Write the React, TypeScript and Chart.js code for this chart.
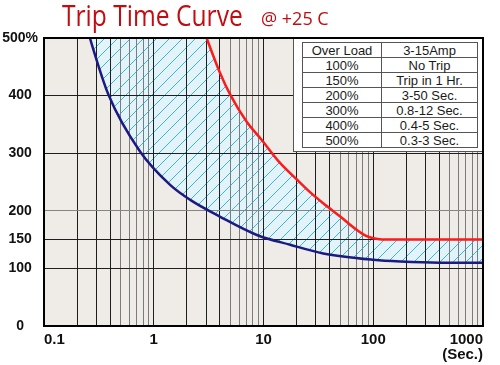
import React, { useEffect, useRef } from "react";
import { Chart, registerables } from "chart.js";

// ---- data ----
const blueTimes = [0.2, 0.262, 0.386, 0.75, 1.41, 2.15, 4, 8.7, 17.5, 35, 100, 176, 400, 1000];
const blueLoads = [580, 500, 402, 303, 245, 219, 190, 158, 141, 126, 115, 112, 110, 110];

const redTimes = [0.2, 2.43, 3.03, 4, 4.96, 7, 9.63, 14, 20.2, 27, 35, 50, 70.5, 85, 100, 120, 150, 1000];
const redLoads = [650, 550, 500, 440, 402, 355, 323, 284, 254, 231, 213, 190, 167, 157, 152.5, 150.3, 150, 150];

const yTickValues = [0, 100, 150, 200, 300, 400, 500];
const xMajorValues = [0.1, 1, 10, 100, 1000];
const xMinorDigits = [1, 2, 3, 4, 5, 6, 7, 8, 9];

const overLoadLabels = ["Over Load", "100%", "150%", "200%", "300%", "400%", "500%"];
const ratingLabels = ["3-15Amp", "No Trip", "Trip in 1 Hr.", "3-50 Sec.", "0.8-12 Sec.", "0.4-5 Sec.", "0.3-3 Sec."];

const titleText = "Trip Time Curve";
const subTitleText = "@ +25 C";

// ---- plugin: plot background + frame (registered first so it paints before the filler) ----
const plotFramePlugin = {
  id: "aaPlotFrame",
  beforeDraw(chart: any) {
    const { ctx, chartArea } = chart;
    if (!chartArea) return;
    ctx.save();
    ctx.fillStyle = "#efebe6";
    ctx.fillRect(chartArea.left, chartArea.top, chartArea.right - chartArea.left, chartArea.bottom - chartArea.top);
    ctx.restore();
  },
  afterDatasetsDraw(chart: any) {
    const { ctx, chartArea } = chart;
    if (!chartArea) return;
    ctx.save();
    ctx.strokeStyle = "#000";
    ctx.lineWidth = 2;
    ctx.strokeRect(chartArea.left, chartArea.top, chartArea.right - chartArea.left, chartArea.bottom - chartArea.top);
    ctx.restore();
  },
};
Chart.register(plotFramePlugin);
Chart.register(...registerables);

function makeHatch(): CanvasPattern | string {
  const s = 13;
  const pc = document.createElement("canvas");
  pc.width = s;
  pc.height = s;
  const p = pc.getContext("2d");
  if (!p) return "#e1f3f9";
  p.fillStyle = "#e2f4fa";
  p.fillRect(0, 0, s, s);
  p.strokeStyle = "#3db5d2";
  p.lineWidth = 1;
  for (const off of [-s, 0, s]) {
    p.beginPath();
    p.moveTo(-1 + off, s + 1);
    p.lineTo(s + 1 + off, -1);
    p.stroke();
  }
  const pat = p.createPattern(pc, "repeat");
  return pat || "#e1f3f9";
}

export default function App() {
  const ref = useRef<HTMLCanvasElement>(null);

  useEffect(() => {
    if (!ref.current) return;
    const xTicks: number[] = [];
    for (let e = -1; e < 3; e++) {
      for (const d of xMinorDigits) xTicks.push(Number((d * Math.pow(10, e)).toPrecision(3)));
    }
    xTicks.push(1000);

    const chart = new Chart(ref.current, {
      type: "line",
      data: {
        datasets: [
          {
            label: "Max",
            data: redTimes.map((t, i) => ({ x: t, y: redLoads[i] })),
            borderColor: "#ff1a1a",
            borderWidth: 2.5,
            pointRadius: 0,
            cubicInterpolationMode: "monotone",
            fill: "+1",
            backgroundColor: makeHatch(),
            clip: 0,
          },
          {
            label: "Min",
            data: blueTimes.map((t, i) => ({ x: t, y: blueLoads[i] })),
            borderColor: "#1c1a82",
            borderWidth: 2.5,
            pointRadius: 0,
            cubicInterpolationMode: "monotone",
            fill: false,
            clip: 0,
          },
        ],
      },
      options: {
        responsive: false,
        animation: false,
        events: [],
        layout: { padding: { top: 38, right: 17, left: 0, bottom: 0 } },
        plugins: {
          legend: { display: false },
          tooltip: { enabled: false },
          title: { display: false },
          filler: { drawTime: "beforeDraw" },
        },
        scales: {
          x: {
            type: "logarithmic",
            min: 0.1,
            max: 1000,
            afterBuildTicks: (scale: any) => {
              scale.ticks = xTicks.map((v) => ({ value: v, major: xMajorValues.includes(v) }));
            },
            afterFit: (scale: any) => {
              scale.height = 39;
            },
            border: { display: false },
            grid: {
              drawTicks: false,
              lineWidth: 1,
              color: (ctx: any) => {
                const v = ctx.tick ? ctx.tick.value : 1;
                const d = Math.round(v / Math.pow(10, Math.floor(Math.log10(v) + 1e-9)));
                return d <= 4 ? "#1e1e1e" : "#7c7c7c";
              },
            },
            ticks: {
              autoSkip: false,
              maxRotation: 0,
              minRotation: 0,
              align: "inner",
              padding: 6,
              color: "#111",
              font: { family: '"Liberation Sans", Arial, sans-serif', size: 15, weight: "bold", lineHeight: 1 },
              callback: (value: any) => {
                const v = Number(value);
                if (v === 1000) return ["1000", "(Sec.)"];
                if (xMajorValues.includes(v)) return String(v);
                return "";
              },
            },
          },
          y: {
            type: "linear",
            min: 0,
            max: 500,
            afterBuildTicks: (scale: any) => {
              scale.ticks = yTickValues.map((v) => ({ value: v }));
            },
            afterFit: (scale: any) => {
              scale.width = 44;
            },
            border: { display: false },
            grid: {
              drawTicks: false,
              lineWidth: 1,
              color: (ctx: any) => (ctx.tick && ctx.tick.value === 200 ? "#858585" : "#1e1e1e"),
            },
            ticks: {
              crossAlign: "center",
              padding: 6,
              color: "#111",
              font: { family: '"Liberation Sans", Arial, sans-serif', size: 14, weight: "bold" },
              callback: (value: any) => (Number(value) === 500 ? "500%" : String(value)),
            },
          },
        },
      } as any,
    });
    return () => chart.destroy();
  }, []);

  const cellStyle: React.CSSProperties = {
    border: "1.5px solid #555",
    padding: 0,
    lineHeight: "13px",
    textAlign: "center",
    whiteSpace: "nowrap",
  };

  return (
    <div
      style={{
        position: "fixed",
        left: 0,
        top: 0,
        width: 500,
        height: 365,
        background: "#fff",
        overflow: "hidden",
      }}
    >
      <canvas
        ref={ref}
        width={500}
        height={365}
        style={{ position: "absolute", left: 0, top: 0, width: 500, height: 365 }}
      />
      <div
        style={{
          position: "absolute",
          left: 62,
          top: 0,
          fontFamily: '"Open Sans", sans-serif',
          fontSize: 30,
          lineHeight: "30px",
          color: "#c20c10",
          transform: "scaleX(0.82)",
          transformOrigin: "left top",
          whiteSpace: "nowrap",
        }}
      >
        {titleText}
      </div>
      <div
        style={{
          position: "absolute",
          left: 261,
          top: 9,
          fontFamily: '"Open Sans", sans-serif',
          fontSize: 18,
          lineHeight: "18px",
          color: "#c20c10",
          whiteSpace: "nowrap",
        }}
      >
        {subTitleText}
      </div>
      <div
        style={{
          position: "absolute",
          left: 293,
          top: 39,
          width: 189,
          height: 113,
          background: "#fff",
          borderLeft: "1px solid #555",
          borderBottom: "1px solid #555",
          boxSizing: "border-box",
        }}
      >
        <table
          style={{
            position: "absolute",
            left: 8,
            top: 3,
            width: 176,
            height: 105,
            borderCollapse: "collapse",
            fontFamily: '"Liberation Sans", Arial, sans-serif',
            fontSize: 13,
            color: "#1a1a1a",
          }}
        >
          <tbody>
            {overLoadLabels.map((lab, i) => (
              <tr key={i} style={{ height: 15 }}>
                <td style={{ ...cellStyle, width: 78 }}>{lab}</td>
                <td style={cellStyle}>{ratingLabels[i]}</td>
              </tr>
            ))}
          </tbody>
        </table>
      </div>
    </div>
  );
}
